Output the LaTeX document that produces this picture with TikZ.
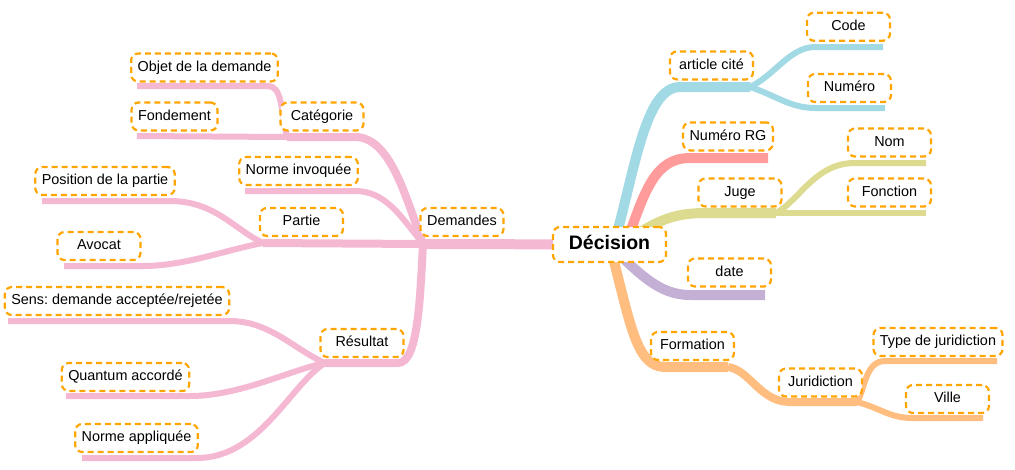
\documentclass[tikz,border=0pt]{standalone}
\usepackage{fontspec}
\setmainfont{Liberation Sans}
\frenchspacing
\pgfdeclarelayer{background}
\pgfsetlayers{background,main}
\definecolor{cpink}{RGB}{245,184,211}
\definecolor{cblue}{RGB}{161,217,228}
\definecolor{cred}{RGB}{255,155,155}
\definecolor{colive}{RGB}{220,219,143}
\definecolor{cpurple}{RGB}{196,176,213}
\definecolor{corange}{RGB}{255,190,127}
\definecolor{cbox}{RGB}{255,165,0}
\tikzset{
  lbl/.style={draw=cbox, line width=2.2pt, dash pattern=on 6pt off 4pt, rounded corners=7pt,
    fill=white, text=black, font=\fontsize{14.4}{16}\selectfont, text height=10.4pt, text depth=3pt,
    inner xsep=6.5pt, inner ysep=0pt, minimum width=83pt, minimum height=28pt},
  root/.style={lbl, font=\fontsize{19.5}{22}\selectfont\bfseries, text height=14pt, text depth=4pt,
    minimum width=113pt, minimum height=35pt},
  wA/.style={line width=10pt, line cap=butt},
  wB/.style={line width=8pt, line cap=butt},
  wC/.style={line width=6pt, line cap=butt},
}
\begin{document}
\begin{tikzpicture}[x=1pt,y=-1pt]
\useasboundingbox (0,0) rectangle (1015,469);
% labels
\node[root] (dec) at (609.5,244.5) {Décision};
\node[lbl] (art) at (711.5,65.4) {article cité};
\node[lbl] (code) at (848.5,26.7) {Code};
\node[lbl] (num) at (849.5,88) {Numéro};
\node[lbl] (rg) at (728,136.4) {Numéro RG};
\node[lbl] (juge) at (740,192.5) {Juge};
\node[lbl] (nom) at (889.5,142.5) {Nom};
\node[lbl] (fct) at (889.5,192.5) {Fonction};
\node[lbl] (date) at (729.5,272.5) {date};
\node[lbl] (form) at (692.5,346) {Formation};
\node[lbl] (jur) at (820.5,382.5) {Juridiction};
\node[lbl] (type) at (938,342) {Type de juridiction};
\node[lbl] (ville) at (947.5,399) {Ville};
\node[lbl] (dem) at (462,222) {Demandes};
\node[lbl] (cat) at (322,116.5) {Catégorie};
\node[lbl] (obj) at (204.5,67.5) {Objet de la demande};
\node[lbl] (fond) at (174.5,116.5) {Fondement};
\node[lbl] (ninv) at (298.5,171) {Norme invoquée};
\node[lbl] (part) at (301.5,222) {Partie};
\node[lbl] (pos) at (105,181) {Position de la partie};
\node[lbl] (avo) at (99,246) {Avocat};
\node[lbl] (res) at (362,343) {Résultat};
\node[lbl] (sens) at (117,301) {Sens: demande acceptée/rejetée};
\node[lbl] (quant) at (125.5,377) {Quantum accordé};
\node[lbl] (napp) at (136.5,438) {Norme appliquée};
% junctions
\coordinate (jD) at (423,244);
\coordinate (jC) at (287,137);
\coordinate (jP) at (263,243);
\coordinate (jR) at (325,363);
\coordinate (jA) at (750,87);
\coordinate (jJ) at (776,213);
\coordinate (jF) at (728,367);
\coordinate (jU) at (857,402);
\coordinate (oB) at (614,244);
\coordinate (oR) at (626,244);
\coordinate (oO) at (628,240);
\begin{pgfonlayer}{background}
% right side
\draw[wA, cblue] (oB) .. controls (635,170) and (645,87) .. (680,87) -- (jA);
\draw[wC, cblue] (jA) .. controls (775,75) and (790,47) .. (815,47) -- (883,47);
\draw[wC, cblue] (jA) .. controls (775,95) and (790,108) .. (815,108) -- (885,108);
\draw[wA, cred] (oR) .. controls (645,190) and (655,158) .. (690,158) -- (768,158);
\draw[wA, colive] (oO) .. controls (655,222) and (672,213) .. (705,213) -- (jJ);
\draw[wC, colive] (jJ) -- (926,213);
\draw[wC, colive] (jJ) .. controls (800,200) and (815,163) .. (855,163) -- (926,163);
\draw[wA, cpurple] (dec.center) .. controls (640,275) and (660,295) .. (690,295) -- (765,295);
\draw[wA, corange] (dec.center) .. controls (630,320) and (635,367) .. (665,367) -- (jF);
\draw[wB, corange] (jF) .. controls (750,370) and (760,402) .. (790,402) -- (jU);
\draw[wC, corange] (jU) .. controls (865,390) and (865,361) .. (885,361) -- (997,361);
\draw[wC, corange] (jU) .. controls (880,408) and (890,418) .. (912,418) -- (983,418);
% left side
\draw[wA, cpink] (dec.center) -- (jD);
\draw[wB, cpink] (jD) .. controls (405,195) and (390,137) .. (355,137) -- (jC);
\draw[wC, cpink] (jC) .. controls (281,110) and (282,86) .. (268,86) -- (137,86);
\draw[wC, cpink] (jC) -- (137,136);
\draw[wC, cpink] (jD) .. controls (400,215) and (385,191) .. (355,191) -- (245,191);
\draw[wB, cpink] (jD) -- (jP);
\draw[wC, cpink] (jP) .. controls (235,230) and (215,201) .. (170,201) -- (42,201);
\draw[wC, cpink] (jP) .. controls (225,250) and (185,266) .. (143,266) -- (64,266);
\draw[wB, cpink] (jD) .. controls (420,300) and (418,363) .. (398,363) -- (jR);
\draw[wC, cpink] (jR) .. controls (295,350) and (270,321) .. (230,321) -- (8,321);
\draw[wC, cpink] (jR) .. controls (290,370) and (240,396) .. (190,396) -- (66,396);
\draw[wC, cpink] (jR) .. controls (290,385) and (260,458) .. (197,458) -- (82,458);
\end{pgfonlayer}
\end{tikzpicture}
\end{document}
